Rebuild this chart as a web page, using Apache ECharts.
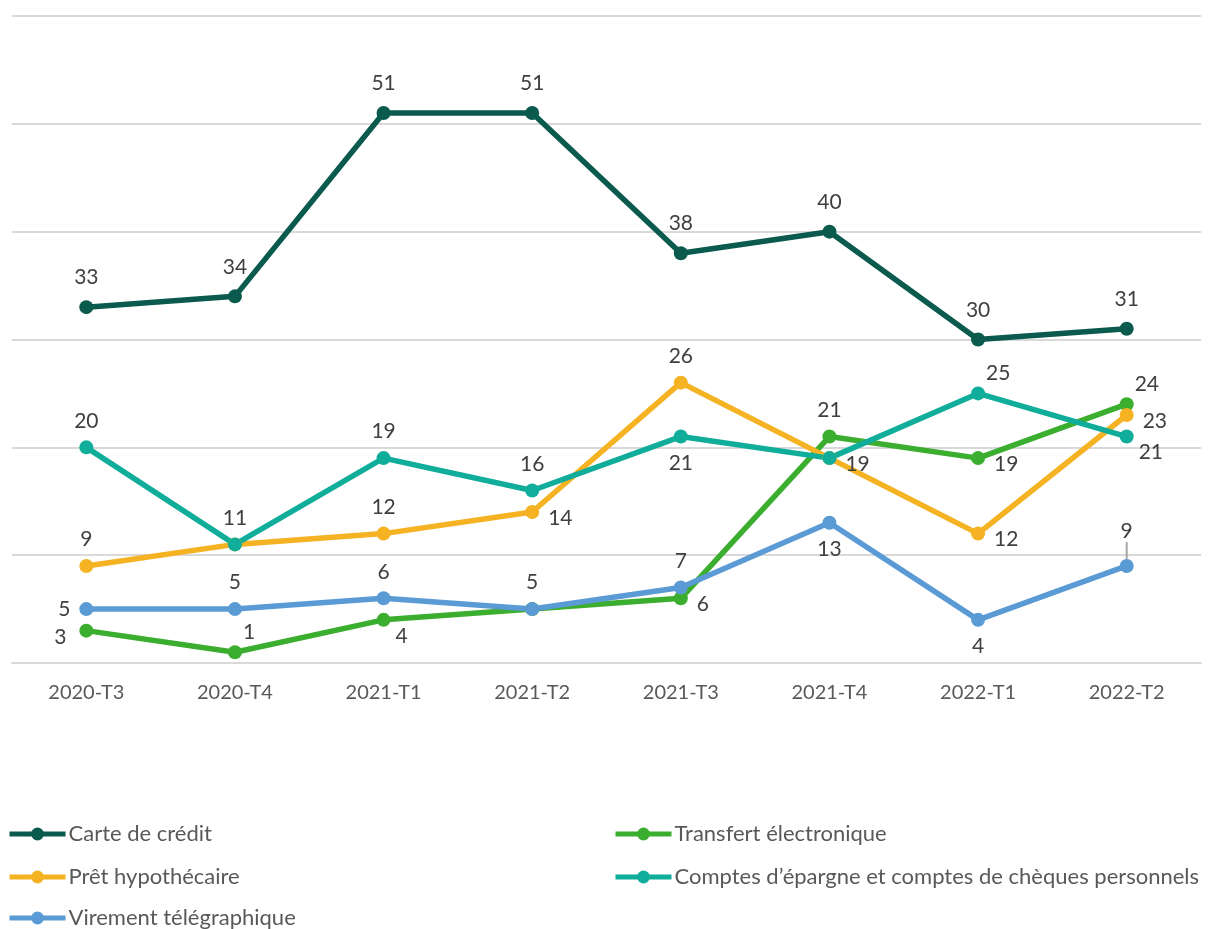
<!DOCTYPE html>
<html><head><meta charset="utf-8">
<script src="https://cdn.jsdelivr.net/npm/echarts@6/dist/echarts.min.js"></script>
<style>html,body{margin:0;padding:0;background:#fff}#c{width:1209px;height:929px}</style>
</head><body><div id="c"></div>
<script>
const categories = ['2020-T3','2020-T4','2021-T1','2021-T2','2021-T3','2021-T4','2022-T1','2022-T2'];
const carteCredit = [33, 34, 51, 51, 38, 40, 30, 31];
const transfertElectronique = [3, 1, 4, 5, 6, 21, 19, 24];
const pretHypothecaire = [9, 11, 12, 14, 26, 19, 12, 23];
const comptesEpargne = [20, 11, 19, 16, 21, 19, 25, 21];
const virementTelegraphique = [5, 5, 6, 5, 7, 13, 4, 9];
const yTicks = [0, 10, 20, 30, 40, 50, 60];

// label placement per point (null = hidden)
const posCarte = ['high','high','high','high','high','high','high','high'];
const posTransfert = ['leftdown','tr',  'br', null, 'right','top','right','tr'];
const posPret = ['top', null, 'top','right','top','right','right','right'];
const posComptes = ['top','top','top','top','bottom', null, 'tr','br'];
const posVirement = ['leftup','top','top','top','top','bottom','bottom','lead'];

function labelFor(p){
  if (p === null) return {show:false};
  if (p === 'high') return {show:true, position:'top', distance:12};
  if (p === 'tr') return {show:true, position:'right', offset:[-8,-20]};
  if (p === 'br') return {show:true, position:'right', offset:[-4,16]};
  if (p === 'lead') return {show:true, position:'top', distance:9};
  if (p === 'right') return {show:true, position:'right', offset:[0,6]};
  if (p === 'leftup') return {show:true, position:'left', offset:[-4,-7]};
  if (p === 'leftdown') return {show:true, position:'left', offset:[-4,7]};
  return {show:true, position:p};
}
function build(vals, pos){
  return vals.map((v,i)=>{
    const item = {value:v, label:labelFor(pos[i])};
    if (pos[i] === 'lead') item.labelLine = {show:true, lineStyle:{color:'#a6a6a6', width:2}};
    return item;
  });
}
const colors = {
  carte:'#0a5a4e', transfert:'#3cae2f', pret:'#f5b324', comptes:'#10ad9a', virement:'#5b9bd5'
};
const names = ['Carte de crédit','Transfert électronique','Prêt hypothécaire','Comptes d’épargne et comptes de chèques personnels','Virement télégraphique'];
function series(name, vals, pos, color){
  return {
    name, type:'line', data:build(vals,pos), symbol:'circle', symbolSize:14,
    lineStyle:{width:5.5, color}, itemStyle:{color},
    label:{show:true, color:'#404040', fontSize:21, fontFamily:'Lato', distance:9},
    labelLine:{show:false},
    emphasis:{disabled:true}, z: 2
  };
}
const chart = echarts.init(document.getElementById('c'));
const legendText = {color:'#595959', fontSize:22, fontFamily:'Lato', padding:[0,0,0,-2]};
function lg(name, left, top){
  return {data:[name], left, top, itemWidth:56, itemHeight:16, itemGap:0, textStyle:legendText, padding:0,
    lineStyle:{width:5}};
}
chart.setOption({
  animation:false,
  backgroundColor:'#fff',
  grid:{left:12, right:8, top:16, bottom:266, containLabel:false},
  xAxis:{type:'category', data:categories, boundaryGap:true,
    axisLine:{show:true, lineStyle:{color:'#d9d9d9', width:2}}, axisTick:{show:false},
    axisLabel:{color:'#595959', fontSize:20, fontFamily:'Lato', margin:20}},
  yAxis:{type:'value', min:yTicks[0], max:yTicks[yTicks.length-1], interval:10,
    axisLabel:{show:false}, axisLine:{show:false}, axisTick:{show:false},
    splitLine:{lineStyle:{color:'#d9d9d9', width:2}}},
  legend:[
    lg(names[0], 7, 823),
    lg(names[2], 7, 866),
    lg(names[4], 7, 907),
    lg(names[1], 613, 823),
    lg(names[3], 613, 866)
  ],
  series:[
    series(names[0], carteCredit, posCarte, colors.carte),
    series(names[1], transfertElectronique, posTransfert, colors.transfert),
    series(names[2], pretHypothecaire, posPret, colors.pret),
    series(names[3], comptesEpargne, posComptes, colors.comptes),
    Object.assign(series(names[4], virementTelegraphique, posVirement, colors.virement), {
      labelLayout: function(p){ return p.dataIndex === 7 ? {dy:-8} : {}; }
    })
  ]
});
</script></body></html>
